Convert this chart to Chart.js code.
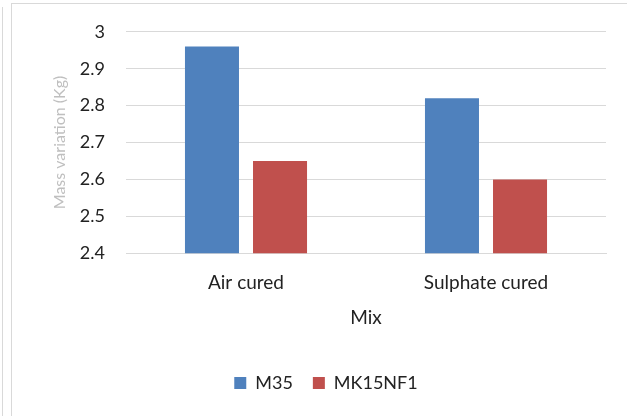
<!DOCTYPE html>
<html>
<head>
<meta charset="utf-8">
<script src="https://cdn.jsdelivr.net/npm/chart.js@4"></script>
<style>
html,body{margin:0;padding:0;background:#fff;}
#wrap{position:relative;width:627px;height:416px;overflow:hidden;}
#frame{position:absolute;left:11px;top:3px;width:640px;height:430px;border-left:1px solid #d9d9d9;border-top:1px solid #d9d9d9;}
#lline{position:absolute;left:2px;top:7px;width:1px;height:420px;background:#d9d9d9;}
canvas{position:absolute;left:0;top:0;}
</style>
</head>
<body>
<div id="wrap">
<div id="lline"></div>
<div id="frame"></div>
<canvas id="c" width="627" height="416"></canvas>
</div>
<script>
const categories = ["Air cured", "Sulphate cured"];
const seriesNames = ["M35", "MK15NF1"];
const m35 = [2.96, 2.82];
const mk15nf1 = [2.65, 2.60];
const yTicks = [2.4, 2.5, 2.6, 2.7, 2.8, 2.9, 3];

const FONT = "Lato, 'Liberation Sans', sans-serif";

new Chart(document.getElementById('c'), {
  type: 'bar',
  data: {
    labels: categories,
    datasets: [
      {label: seriesNames[0], data: m35, backgroundColor: '#4f81bd', categoryPercentage: 0.567, barPercentage: 0.794},
      {label: seriesNames[1], data: mk15nf1, backgroundColor: '#c0504d', categoryPercentage: 0.567, barPercentage: 0.794}
    ]
  },
  options: {
    responsive: false,
    animation: false,
    devicePixelRatio: 1,
    layout: {padding: {left: 46, right: 21, top: 27, bottom: 14}},
    plugins: {
      legend: {
        position: 'bottom',
        labels: {boxWidth: 12, boxHeight: 12, padding: 20, color: '#222', font: {family: FONT, size: 18}}
      },
      tooltip: {enabled: false}
    },
    scales: {
      x: {
        grid: {display: false, drawTicks: false},
        border: {color: '#d9d9d9'},
        ticks: {padding: 18, color: '#222', font: {family: FONT, size: 19}},
        title: {display: true, text: 'Mix', color: '#222', font: {family: FONT, size: 19, lineHeight: 1}, padding: {top: -4, bottom: 27}}
      },
      y: {
        min: 2.4, max: 3,
        afterFit: s => { s.width = 80; },
        afterBuildTicks: s => { s.ticks = yTicks.map(v => ({value: v})); },
        grid: {color: '#d9d9d9', drawTicks: false},
        border: {display: false},
        ticks: {padding: 21, color: '#222', font: {family: FONT, size: 18}, callback: v => String(v)},
        title: {display: true, text: 'Mass variation (Kg)', color: '#bfbfbf', font: {family: FONT, size: 16}, padding: {top: 4, bottom: 0}}
      }
    }
  }
});
</script>
</body>
</html>
